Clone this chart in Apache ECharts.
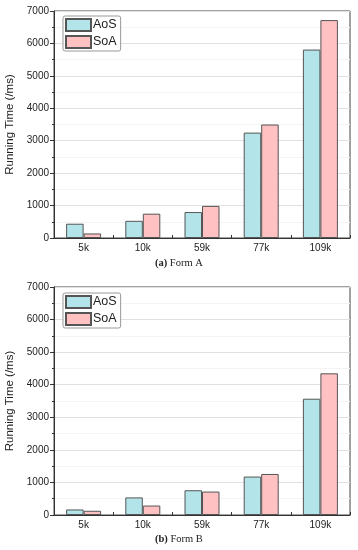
<!DOCTYPE html>
<html><head><meta charset="utf-8">
<script src="https://cdn.jsdelivr.net/npm/echarts@6/dist/echarts.min.js"></script>
<style>html,body{margin:0;padding:0;background:#fff}#c{width:358px;height:550px}</style>
</head><body><div id="c"></div>
<script>
const categories = ['5k', '10k', '59k', '77k', '109k'];
const aosA = [440, 530, 800, 3250, 5810];
const soaA = [140, 750, 990, 3500, 6720];
const aosB = [170, 540, 760, 1180, 3570];
const soaB = [130, 290, 720, 1260, 4350];
const yTicks = [0, 1000, 2000, 3000, 4000, 5000, 6000, 7000];
const captionA = ['(a)', 'Form A'];
const captionB = ['(b)', 'Form B'];
const yName = 'Running Time (/ms)';

const chart = echarts.init(document.getElementById('c'), null, {renderer: 'canvas'});
const AOS_COLOR = '#b3e4e9';
const SOA_COLOR = '#ffc1c1';
const font = 'Liberation Sans, Arial, sans-serif';

function xAx(gi) {
  return {
    type: 'category', gridIndex: gi, data: categories,
    axisLine: {show: true, lineStyle: {color: '#333', width: 1}},
    axisTick: {show: true, inside: true, length: 3, lineStyle: {color: '#333'}},
    axisLabel: {color: '#222', fontSize: 10, fontFamily: font, margin: 5},
    splitLine: {show: false}
  };
}
function yAx(gi) {
  return {
    type: 'value', gridIndex: gi, min: yTicks[0], max: yTicks[yTicks.length - 1], interval: 1000,
    name: yName, nameLocation: 'middle', nameGap: 31,
    nameTextStyle: {color: '#222', fontSize: 11.5, fontFamily: font},
    axisLine: {show: true, lineStyle: {color: '#333', width: 1}},
    axisTick: {show: true, inside: false, length: 4, lineStyle: {color: '#333'}},
    minorTick: {show: true, splitNumber: 2, length: 2, lineStyle: {color: '#333'}},
    minorSplitLine: {show: true, lineStyle: {color: '#f3f3f3', width: 1}},
    splitLine: {show: true, lineStyle: {color: '#e0e0e0', width: 1}},
    axisLabel: {color: '#222', fontSize: 10, fontFamily: font, margin: 5, formatter: v => String(v)}
  };
}
function bar(name, data, color, gi) {
  return {
    type: 'bar', name: name, data: data, xAxisIndex: gi, yAxisIndex: gi,
    barWidth: 17.5, barGap: '0%',
    itemStyle: {color: color, borderColor: '#555', borderWidth: 1},
    emphasis: {disabled: true}
  };
}
function legend(top) {
  return {
    orient: 'vertical', left: 63, top: top, itemWidth: 25, itemHeight: 12, itemGap: 3,
    padding: [2, 4, 2, 2], borderColor: '#999', borderWidth: 1, borderRadius: 2,
    backgroundColor: '#fff',
    textStyle: {color: '#222', fontSize: 12.5, fontFamily: font, padding: [0, 0, 0, -3]},
    icon: 'rect',
    data: ['AoS', 'SoA']
  };
}
function grid(top, h) {
  return {left: 54, right: 8, top: top, height: h, show: true, borderColor: '#444', borderWidth: 1,
    backgroundColor: 'transparent', containLabel: false, outerBoundsMode: 'none'};
}

chart.setOption({
  animation: false,
  backgroundColor: '#fff',
  grid: [grid(11, 227), grid(287, 228)],
  xAxis: [xAx(0), xAx(1)],
  yAxis: [yAx(0), yAx(1)],
  legend: [legend(16), legend(293)],
  series: [
    bar('AoS', aosA, AOS_COLOR, 0), bar('SoA', soaA, SOA_COLOR, 0),
    bar('AoS', aosB, AOS_COLOR, 1), bar('SoA', soaB, SOA_COLOR, 1)
  ],
  graphic: [
    {type: 'text', left: 155, top: 258, style: {
      text: '{b|' + captionA[0] + '} ' + captionA[1], fill: '#222',
      font: '10.5px Liberation Serif, Times New Roman, serif',
      rich: {b: {fontWeight: 'bold', fontFamily: 'Liberation Serif, serif', fontSize: 10.5, fill: '#222'}}
    }},
    {type: 'text', left: 155, top: 534, style: {
      text: '{b|' + captionB[0] + '} ' + captionB[1], fill: '#222',
      font: '10.5px Liberation Serif, Times New Roman, serif',
      rich: {b: {fontWeight: 'bold', fontFamily: 'Liberation Serif, serif', fontSize: 10.5, fill: '#222'}}
    }}
  ]
});
</script></body></html>
